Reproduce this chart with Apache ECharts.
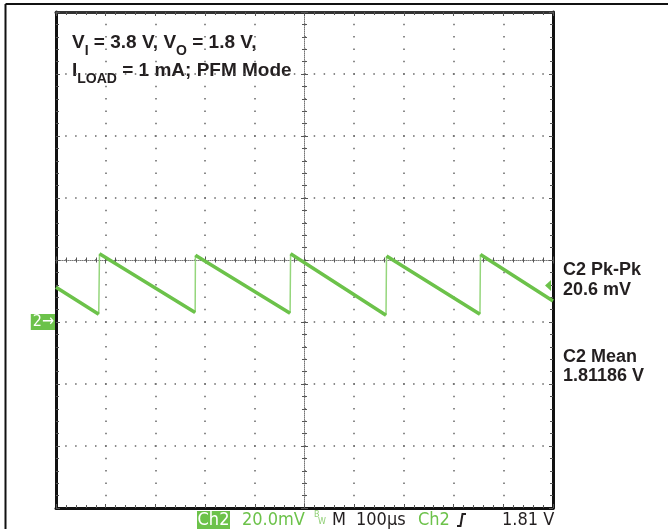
<!DOCTYPE html>
<html><head><meta charset="utf-8">
<script src="https://cdn.jsdelivr.net/npm/echarts@6/dist/echarts.min.js"></script>
<style>html,body{margin:0;padding:0;background:#fff}#c{width:668px;height:529px}</style>
</head><body><div id="c"></div>
<script>
// x: time in µs relative to screen centre (100 µs/div); y: mV relative to screen centre (20 mV/div)
const rampStartUs = [-500, -412.5, -219.5, -28, 165, 354];
const rampStartMv = [-8.8, 2.0, 1.5, 2.0, 1.3, 1.8];
const rampEndUs = [-414, -220, -29, 164, 353, 500];
const rampEndMv = [-17.5, -16.9, -17.2, -17.8, -17.5, -13.2];
const triggerLevelMv = -8.2;
const groundMarkerMv = -20;
const groundMarkerLabel = '2\u2192';
const measureLines = ['C2 Pk-Pk', '20.6 mV', 'C2 Mean', '1.81186 V'];
const statusCh = 'Ch2';
const statusVdiv = '20.0mV';
const statusTime = '100\u00b5s';
const statusTrig = '1.81 V';

const GREEN = '#6cc24a';
const TXT = '#231f20';
const COND = '"DejaVu Sans Condensed", "Liberation Sans Narrow", sans-serif';

const rampData = [];
const edgeData = [];
for (let i = 0; i < rampStartUs.length; i++) {
  rampData.push([rampStartUs[i], rampStartMv[i]], [rampEndUs[i], rampEndMv[i]], [rampEndUs[i], '-']);
  if (i + 1 < rampStartUs.length) {
    edgeData.push([rampEndUs[i], rampEndMv[i]], [rampStartUs[i + 1], rampStartMv[i + 1]], [rampStartUs[i + 1], '-']);
  }
}

const gridRect = { left: 56, top: 12, width: 497, height: 496 };
const xBase = { type: 'value', min: -500, max: 500, interval: 100, axisLabel: { show: false } };
const yBase = { type: 'value', min: -80, max: 80, interval: 20 };

function borderAxis(base, extra) {
  return Object.assign({}, base, {
    axisLine: { show: true, onZero: false, lineStyle: { color: '#111', width: 3 } },
    axisTick: { show: true, inside: true, length: 4, lineStyle: { color: '#555', width: 1 } },
    minorTick: { show: true, splitNumber: 5, length: 3, lineStyle: { color: '#555', width: 1 } },
    splitLine: { show: false }
  }, extra);
}
function crossAxis(base, extra, inside, showLine) {
  return Object.assign({}, base, {
    axisLine: { show: showLine, onZero: true, lineStyle: { color: '#777', width: 1, type: [1, 1] } },
    axisTick: { show: true, inside: inside, length: 3.5, lineStyle: { color: '#555', width: 1 } },
    minorTick: { show: true, splitNumber: 5, length: 2.5, lineStyle: { color: '#555', width: 1 } },
    axisLabel: { show: false },
    splitLine: { show: false }
  }, extra);
}
const titleRich = {
  m: { fontSize: 19, fontWeight: 'bold', fontFamily: 'Liberation Sans, Arial, sans-serif', lineHeight: 31, fill: TXT },
  s: { fontSize: 14, fontWeight: 'bold', fontFamily: 'Liberation Sans, Arial, sans-serif', lineHeight: 14, verticalAlign: 'bottom', fill: TXT }
};

const chart = echarts.init(document.getElementById('c'), null, { renderer: 'canvas' });
chart.setOption({
  animation: false,
  backgroundColor: '#fff',
  grid: [Object.assign({}, gridRect), Object.assign({}, gridRect), Object.assign({}, gridRect)],
  xAxis: [
    borderAxis(xBase, { gridIndex: 0, position: 'bottom',
      splitLine: { show: true, lineStyle: { color: '#666', width: 1.5, type: [1.5, 10.9], dashOffset: 0.75 } } }),
    borderAxis(xBase, { gridIndex: 0, position: 'top', axisLine: { show: true, onZero: false, lineStyle: { color: '#333', width: 3 } } }),
    crossAxis(xBase, { gridIndex: 1 }, false, true),
    crossAxis(xBase, { gridIndex: 2 }, true, false)
  ],
  yAxis: [
    borderAxis(yBase, { gridIndex: 0, position: 'left',
      splitLine: { show: true, lineStyle: { color: '#666', width: 1.5, type: [1.5, 8.44], dashOffset: 0.75 } },
      axisLabel: { show: true, margin: 1, formatter: v => (v === groundMarkerMv ? groundMarkerLabel : ''),
        color: '#fff', fontSize: 16, fontFamily: 'DejaVu Sans Condensed, Liberation Sans Narrow, sans-serif', lineHeight: 16,
        backgroundColor: GREEN, padding: [0, 1, 0, 2] } }),
    borderAxis(yBase, { gridIndex: 0, position: 'right', axisLabel: { show: false } }),
    crossAxis(yBase, { gridIndex: 1 }, false, true),
    crossAxis(yBase, { gridIndex: 2 }, true, false)
  ],
  series: [
    { type: 'line', xAxisIndex: 0, yAxisIndex: 0, data: edgeData, showSymbol: false, connectNulls: false,
      lineStyle: { color: '#95d67c', width: 1.5 }, z: 3, silent: true },
    { type: 'line', xAxisIndex: 0, yAxisIndex: 0, data: rampData, showSymbol: false, connectNulls: false,
      lineStyle: { color: GREEN, width: 3.5 }, z: 4, silent: true,
      markPoint: { symbol: 'path://M0,5L8,0L8,10Z', symbolSize: [6, 11], symbolOffset: [-5, 0],
        itemStyle: { color: GREEN }, label: { show: false },
        data: [{ coord: [500, triggerLevelMv] }] } }
  ],
  graphic: [
    { type: 'line', shape: { x1: 5.5, y1: 4, x2: 668, y2: 4 }, style: { stroke: '#111', lineWidth: 2 } },
    { type: 'line', shape: { x1: 5.5, y1: 4, x2: 5.5, y2: 529 }, style: { stroke: '#111', lineWidth: 2 } },
    { type: 'text', left: 72, top: 33, style: { text: '{m|V}{s|I}{m| = 3.8 V, V}{s|O}{m| = 1.8 V,}', rich: titleRich } },
    { type: 'text', left: 72, top: 61, style: { text: '{m|I}{s|LOAD}{m| = 1 mA; PFM Mode}', rich: titleRich } },
    { type: 'text', x: 563, y: 270, style: { text: measureLines[0], font: 'bold 18px "Liberation Sans", Arial, sans-serif', fill: TXT, verticalAlign: 'middle' } },
    { type: 'text', x: 563, y: 290.5, style: { text: measureLines[1], font: 'bold 18px "Liberation Sans", Arial, sans-serif', fill: TXT, verticalAlign: 'middle' } },
    { type: 'text', x: 563, y: 357, style: { text: measureLines[2], font: 'bold 18px "Liberation Sans", Arial, sans-serif', fill: TXT, verticalAlign: 'middle' } },
    { type: 'text', x: 563, y: 376.5, style: { text: measureLines[3], font: 'bold 18px "Liberation Sans", Arial, sans-serif', fill: TXT, verticalAlign: 'middle' } },
    { type: 'rect', shape: { x: 197, y: 511, width: 33, height: 18 }, style: { fill: GREEN } },
    { type: 'text', x: 213.5, y: 520, style: { text: statusCh, font: '18px ' + COND, fill: '#fff', align: 'center', verticalAlign: 'middle' } },
    { type: 'text', x: 242, y: 520, style: { text: statusVdiv, font: '18px ' + COND, fill: GREEN, verticalAlign: 'middle' } },
    { type: 'text', x: 314, y: 515, style: { text: 'B', font: '8px "DejaVu Sans", sans-serif', fill: '#8fcf74', verticalAlign: 'middle' } },
    { type: 'text', x: 318, y: 522, style: { text: 'W', font: '8px "DejaVu Sans", sans-serif', fill: '#8fcf74', verticalAlign: 'middle' } },
    { type: 'text', x: 332, y: 520, style: { text: 'M', font: '18px ' + COND, fill: TXT, verticalAlign: 'middle' } },
    { type: 'text', x: 356, y: 520, style: { text: statusTime, font: '18px ' + COND, fill: TXT, verticalAlign: 'middle' } },
    { type: 'text', x: 418, y: 520, style: { text: statusCh, font: '18px ' + COND, fill: GREEN, verticalAlign: 'middle' } },
    { type: 'polyline', shape: { points: [[457, 526], [460.5, 526], [462.5, 514], [466, 514]] }, style: { stroke: TXT, lineWidth: 2, fill: null } },
    { type: 'text', x: 502, y: 520, style: { text: statusTrig, font: '18px ' + COND, fill: TXT, verticalAlign: 'middle' } }
  ]
});
</script></body></html>
